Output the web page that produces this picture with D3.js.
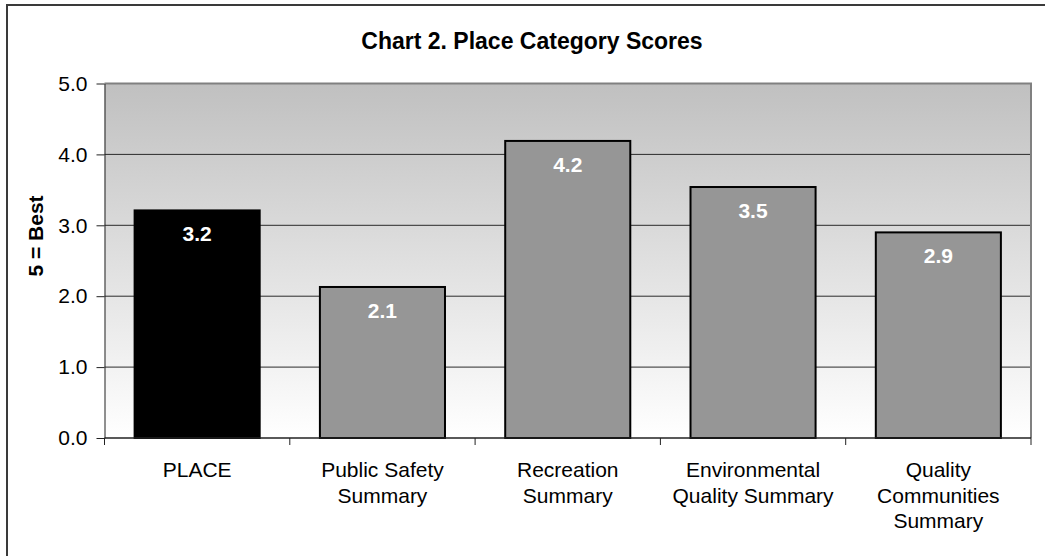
<!DOCTYPE html>
<html>
<head>
<meta charset="utf-8">
<script src="https://cdn.jsdelivr.net/npm/d3@7"></script>
<style>
  body { margin: 0; background: #fff; }
  svg { display: block; font-family: "Liberation Sans", Arial, sans-serif; }
</style>
</head>
<body>
<svg id="chart"></svg>
<script>
// chart data
const categories = ["PLACE", "Public Safety\nSummary", "Recreation\nSummary", "Environmental\nQuality Summary", "Quality\nCommunities\nSummary"];
const scores = [3.21, 2.13, 4.19, 3.54, 2.9];
const yTicks = [0, 1, 2, 3, 4, 5];
const title = "Chart 2. Place Category Scores";
const yLabel = "5 = Best";

class BarChart {
    margin = { top: 83.5, right: 14, bottom: 118, left: 104.5 }

    constructor(svg, width = 1045, height = 556) {
        this.svg = d3.select(svg);
        this.width = width;
        this.height = height;
    }

    draw() {
        const W = this.width, H = this.height, m = this.margin;
        const plotW = W - m.left - m.right;
        const plotH = H - m.top - m.bottom;

        this.svg.attr("width", W).attr("height", H);

        // outer frame (only top/left edges show)
        this.svg.append("rect")
            .attr("x", 7).attr("y", 5)
            .attr("width", W + 40).attr("height", H + 40)
            .attr("fill", "#fff")
            .attr("stroke", "#3a3a3a")
            .attr("stroke-width", 2);

        const defs = this.svg.append("defs");
        const grad = defs.append("linearGradient")
            .attr("id", "bg").attr("x1", 0).attr("y1", 0).attr("x2", 0).attr("y2", 1);
        grad.append("stop").attr("offset", "0%").attr("stop-color", "#c0c0c0");
        grad.append("stop").attr("offset", "100%").attr("stop-color", "#ffffff");

        const g = this.svg.append("g").attr("transform", `translate(${m.left}, ${m.top})`);

        g.append("rect")
            .attr("width", plotW).attr("height", plotH)
            .attr("fill", "url(#bg)");

        const x = d3.scaleBand()
            .domain(categories)
            .range([0, plotW])
            .paddingInner(0.325)
            .paddingOuter(0.1625);

        const y = d3.scaleLinear().domain([0, 5]).range([plotH, 0]);

        // gridlines
        g.selectAll(".grid")
            .data(yTicks.filter(t => t > 0 && t < 5))
            .join("line")
            .attr("x1", 0).attr("x2", plotW)
            .attr("y1", d => y(d)).attr("y2", d => y(d))
            .attr("stroke", "#2a2a2a")
            .attr("stroke-width", 1);

        // plot border top/right
        g.append("path")
            .attr("d", `M0,${y(5)}H${plotW}V${plotH}`)
            .attr("fill", "none")
            .attr("stroke", "#808080")
            .attr("stroke-width", 2);

        // bars
        g.selectAll(".bar")
            .data(scores)
            .join("rect")
            .attr("x", (d, i) => x(categories[i]))
            .attr("y", d => y(d))
            .attr("width", x.bandwidth())
            .attr("height", d => plotH - y(d))
            .attr("fill", (d, i) => i === 0 ? "#000" : "#969696")
            .attr("stroke", "#000")
            .attr("stroke-width", 2);

        // value labels
        g.selectAll(".val")
            .data(scores)
            .join("text")
            .attr("x", (d, i) => x(categories[i]) + x.bandwidth() / 2)
            .attr("y", d => y(d) + 31)
            .attr("text-anchor", "middle")
            .attr("fill", "#fff")
            .style("font-size", "21px")
            .style("font-weight", "bold")
            .text(d => d.toFixed(1));

        // y axis
        const yAxis = g.append("g")
            .call(d3.axisLeft(y).tickValues(yTicks).tickFormat(d3.format(".1f"))
                .tickSize(8).tickSizeOuter(0).tickPadding(9));
        yAxis.select(".domain").attr("stroke", "#222");
        yAxis.selectAll(".tick line").attr("stroke", "#222");
        yAxis.selectAll("text").style("font-size", "21px").attr("fill", "#000")
            .attr("font-family", null);

        // x axis: line + ticks at category boundaries
        const xAxis = g.append("g").attr("transform", `translate(0, ${plotH})`);
        xAxis.append("line")
            .attr("x1", 0).attr("x2", plotW)
            .attr("stroke", "#222").attr("stroke-width", 1.5);
        const bounds = d3.range(categories.length + 1).map(i => i * x.step());
        xAxis.selectAll(".xt")
            .data(bounds)
            .join("line")
            .attr("x1", d => d).attr("x2", d => d)
            .attr("y1", 0).attr("y2", 7)
            .attr("stroke", "#222");

        xAxis.selectAll(".xl")
            .data(categories)
            .join("text")
            .attr("text-anchor", "middle")
            .attr("transform", d => `translate(${x(d) + x.bandwidth() / 2}, 39)`)
            .style("font-size", "21px")
            .selectAll("tspan")
            .data(d => d.split("\n"))
            .join("tspan")
            .attr("x", 0)
            .attr("y", (d, i) => i * 25.5)
            .text(d => d);

        // title
        this.svg.append("text")
            .attr("x", 532).attr("y", 49)
            .attr("text-anchor", "middle")
            .style("font-size", "23px")
            .style("font-weight", "bold")
            .text(title);

        // y label
        this.svg.append("text")
            .attr("transform", `translate(43, 236) rotate(-90)`)
            .attr("text-anchor", "middle")
            .style("font-size", "21px")
            .style("font-weight", "bold")
            .text(yLabel);
    }
}

new BarChart("#chart").draw();
</script>
</body>
</html>
